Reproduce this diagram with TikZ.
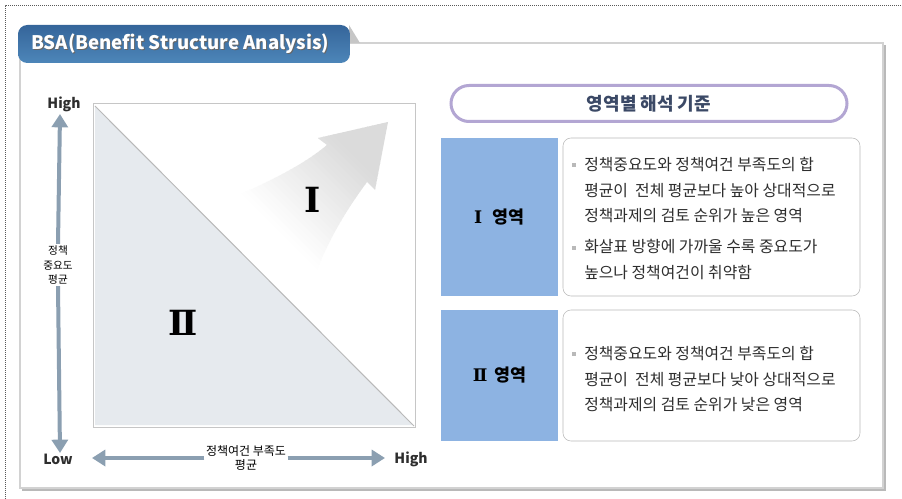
\documentclass[tikz,border=0pt]{standalone}
\usepackage{fontspec}
\setmainfont{Noto Sans CJK KR}
\newfontfamily\romfont{DejaVu Serif}
\usetikzlibrary{arrows.meta}

\definecolor{tabtop}{HTML}{35659A}
\definecolor{tabbot}{HTML}{4D86B9}
\definecolor{zonefill}{HTML}{8DB3E2}
\definecolor{pillline}{HTML}{B3A6D3}
\definecolor{axisblue}{HTML}{8B9FB1}
\definecolor{trifill}{HTML}{E6EAEE}
\definecolor{headtxt}{HTML}{3B4966}
\definecolor{bodytxt}{HTML}{2E2E2E}

\tikzset{
  axisarr/.style={draw=axisblue, line width=3pt, -{Triangle[width=12pt,length=10pt]}},
  axislab/.style={inner sep=0.75pt, text=bodytxt, font=\fontsize{10.5}{12}\selectfont\bfseries},
  zonebox/.style={fill=zonefill, minimum width=87.75pt, inner sep=0pt, font=\fontsize{13}{15}\selectfont\bfseries},
  descbox/.style={draw=gray!55, fill=white, rounded corners=6pt, minimum width=222.75pt, inner sep=0pt},
  desctxt/.style={anchor=north west, inner sep=0pt, text=bodytxt, font=\fontsize{11.9}{13.6}\selectfont},
  romnum/.style={inner sep=0pt, font=\romfont\bfseries\fontsize{26}{30}\selectfont}
}
\newcommand{\sqbul}{{\color{gray!55}\rule[2.5pt]{3pt}{3pt}}}

\begin{document}
\begin{tikzpicture}[x=0.75pt,y=0.75pt,yscale=-1,xscale=1]
\useasboundingbox (0,0) rectangle (902,499);

%Dotted frame
\draw [gray!70!black, dash pattern=on 0.75pt off 0.75pt, line width=0.75pt] (5,499) -- (5,6) -- (902,6) ;

%Panel with shadow
\fill [gray!55] (22,45) rectangle (886,491) ;
\draw [draw=gray!35, fill=white, line width=1.5pt] (20,43) rectangle (883,488) ;

%Title tab
\fill [gray!45] (349,25) -- (360,43) -- (349,43) -- cycle ;
\shade [top color=tabtop, bottom color=tabbot, rounded corners=7pt] (18,42) -- (18,25) -- (350,25) -- (350,63) -- (18,63) -- cycle ;
\node [anchor=west, inner sep=0.75pt, text=black!60] at (31,45) {\fontsize{14}{15}\selectfont\bfseries BSA(Benefit Structure Analysis)};
\node (title) [anchor=west, inner sep=0.75pt, text=white] at (30,44) {\fontsize{14}{15}\selectfont\bfseries BSA(Benefit Structure Analysis)};

%Square and lower triangle
\draw [draw=gray!45, line width=0.75pt] (93,104) rectangle (415,427) ;
\fill [trifill] (95,106) -- (413,425) -- (95,425) -- cycle ;
\draw [gray!55, line width=0.75pt] (95,106) -- (414,426) ;

%Curved arrow, fading toward its tail
\begin{scope}
\clip (228,200) .. controls (268,182) and (302,166) .. (327,145) -- (318,138) -- (388,122) -- (375,190) -- (367,182) .. controls (345,212) and (328,240) .. (312,282) -- cycle ;
\foreach \u in {24,30,...,276} {
  \pgfmathsetmacro{\fadeval}{min(14,max(0,(\u-45)*14/150))}
  \fill [black!\fadeval] (\u+100,100) -- (\u+300,300) -- (\u+307,300) -- (\u+107,100) -- cycle ;
}
\end{scope}

% Roman numerals
\node (zone1) [romnum] at (313,200) {Ⅰ};
\node (zone2) [romnum] at (183,323) {Ⅱ};

% Axis text nodes
\node (vhigh) [axislab] at (64,104) {High};
\node (vlow) [axislab] at (58,459) {Low};
\node (hhigh) [axislab] at (411,459) {High};
\node (vlab) [inner sep=1pt, align=center, font=\fontsize{8}{11}\selectfont] at (58,265) {정책\\중요도\\평균};
\node (hlab) [inner sep=1pt, align=center, font=\fontsize{9}{11}\selectfont] at (246,458) {정책여건 부족도\\평균};
\coordinate (vtop) at (60,114);
\coordinate (vbot) at (60,453);
\coordinate (hleft) at (92,458);
\coordinate (hright) at (385,458);

%Axis arrows
\draw [axisarr] (vlab.north) -- (vtop) ;
\draw [axisarr] (vlab.south) -- (vbot) ;
\draw [axisarr] (hlab.west |- hleft) -- (hleft) ;
\draw [axisarr] (hlab.east |- hright) -- (hright) ;

% Heading
\node (crit) [draw=pillline, line width=2.25pt, rounded corners=13.5pt, minimum width=297pt, minimum height=27pt, text=headtxt, font=\fontsize{13.5}{15}\selectfont\bfseries] at (649,103.5) {영역별 해석 기준};

% Zone I
\node (zbox1) [zonebox, minimum height=118.5pt] at (499.5,217) {{\romfont Ⅰ}\hspace{8pt}영역};
\node (dbox1) [descbox, minimum height=118.5pt] at (711.5,217) {};
\node (dtxt1) [desctxt] at (572,152) {\renewcommand{\arraystretch}{1.42}\begin{tabular}{@{}l@{\hspace{6pt}}l@{}}
\sqbul & 정책중요도와 정책여건 부족도의 합\\
 & 평균이 \ 전체 평균보다 높아 상대적으로\\
 & 정책과제의 검토 순위가 높은 영역\\[4pt]
\sqbul & 화살표 방향에 가까울 수록 중요도가\\
 & 높으나 정책여건이 취약함
\end{tabular}};

% Zone II
\node (zbox2) [zonebox, minimum height=98.25pt] at (499.5,375.5) {{\romfont Ⅱ}\hspace{5pt}영역};
\node (dbox2) [descbox, minimum height=98.25pt] at (711.5,375.5) {};
\node (dtxt2) [desctxt] at (572,341) {\renewcommand{\arraystretch}{1.42}\begin{tabular}{@{}l@{\hspace{6pt}}l@{}}
\sqbul & 정책중요도와 정책여건 부족도의 합\\
 & 평균이 \ 전체 평균보다 낮아 상대적으로\\
 & 정책과제의 검토 순위가 낮은 영역
\end{tabular}};

\end{tikzpicture}
\end{document}
